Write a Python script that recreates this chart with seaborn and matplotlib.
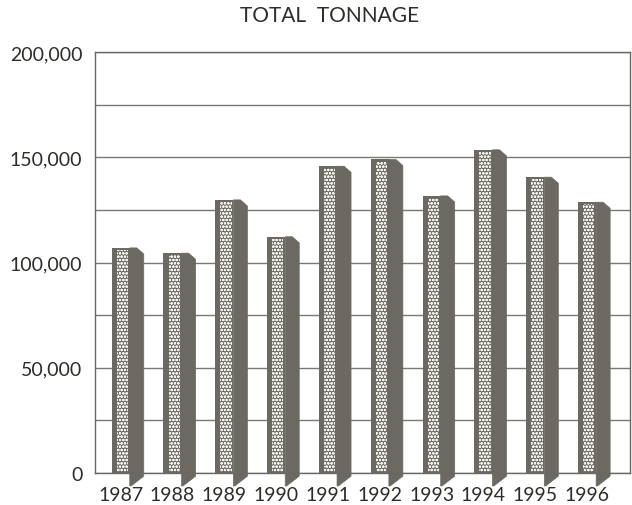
import matplotlib
matplotlib.use("Agg")
import matplotlib.pyplot as plt
import seaborn as sns
from matplotlib.patches import Polygon, Rectangle
from matplotlib.ticker import FuncFormatter, MultipleLocator

# data
years = ["1987", "1988", "1989", "1990", "1991", "1992", "1993", "1994", "1995", "1996"]
tonnage = [107000, 104500, 129800, 112300, 145800, 149000, 131700, 153600, 140600, 128700]

sns.set_style("white")
plt.rcParams["font.family"] = ["Lato", "DejaVu Sans"]
plt.rcParams["hatch.linewidth"] = 0.75

text_col = "#2f2d2a"
dark = "#6c6963"
dot_col = "#f2f0ea"

fig = plt.figure(figsize=(6.32, 5.06), dpi=100)
ax = fig.add_axes([0.150, 0.063, 0.847, 0.832])

# front faces
sns.barplot(x=years, y=tonnage, color=dark, width=0.35, ax=ax,
            linewidth=0, saturation=1, zorder=3)

ax.set_ylim(0, 200000)
ax.set_xlim(-0.5, len(years) - 0.17)

dx = 0.27
dy = 2900
for p in ax.patches[:len(years)]:
    x0 = p.get_x()
    w = p.get_width()
    h = p.get_height()
    x1 = x0 + w
    # dotted inner panel
    inner = Rectangle((x0 + w * 0.28, 500), w * 0.62, h - 1500,
                      facecolor=dark, edgecolor=dot_col, hatch="ooooo",
                      linewidth=0, zorder=4)
    ax.add_patch(inner)
    # side face with slanted top, running a little below the base
    side = Polygon([(x1, 0), (x1, h), (x1 + dx * 0.5, h),
                    (x1 + dx, h - dy), (x1 + dx, -dy * 0.5),
                    (x1 + dx * 0.1, -dy * 2.1), (x1, -dy * 2.1)],
                   closed=True, facecolor=dark, edgecolor=dark,
                   linewidth=0.5, zorder=2, clip_on=False)
    ax.add_patch(side)

ax.yaxis.set_major_locator(MultipleLocator(50000))
ax.yaxis.set_minor_locator(MultipleLocator(25000))
ax.yaxis.set_major_formatter(FuncFormatter(lambda v, _: f"{int(v):,}"))
ax.grid(True, axis="y", which="both", color="#7a7874", linewidth=1.0, zorder=0)
ax.set_axisbelow(True)

for s in ax.spines.values():
    s.set_color("#6a6864")
    s.set_linewidth(1.0)

ax.tick_params(axis="both", which="both", length=0, colors=text_col, labelsize=14)
ax.tick_params(axis="y", pad=9)
ax.tick_params(axis="x", pad=9)
ax.set_xlabel("")
ax.set_ylabel("")

fig.text(0.522, 0.968, "TOTAL  TONNAGE", ha="center", va="center",
         fontsize=15, color=text_col)

fig.savefig("out.png", dpi=100)
